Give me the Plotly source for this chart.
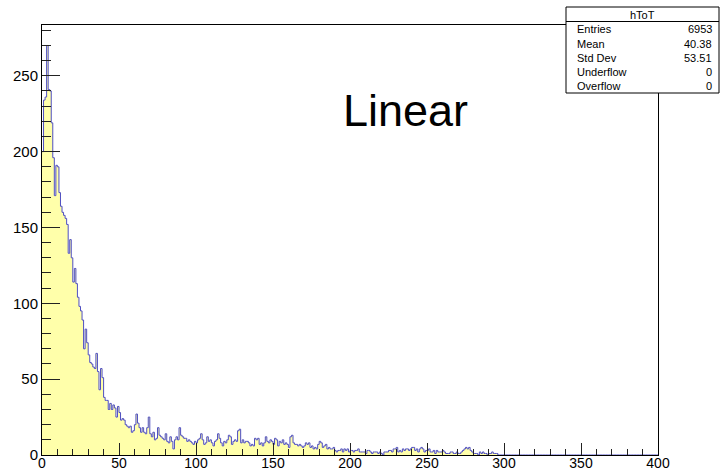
import numpy as np
import plotly.graph_objects as go

# Histogram hToT: 400 bins of width 1 from 0 to 400
BIN_LOW = 0.0
BIN_WIDTH = 1.0

counts = [
    # 0-29
    200, 234, 236, 270, 241, 240, 219, 196, 171, 191,
    190, 173, 164, 160, 158, 156, 152, 133, 142, 130,
    114, 123, 113, 104, 98, 95, 89, 70, 83, 74,
    # 30-59
    66, 61, 60, 58, 57, 67, 55, 43, 57, 51,
    38, 36, 36, 30, 34, 30, 33, 31, 25, 32,
    28, 23, 24, 23, 20, 19, 18, 19, 15, 16,
    # 60-89
    20, 27, 21, 18, 15, 18, 15, 14, 18, 25,
    14, 12, 15, 10, 11, 18, 13, 12, 11, 10,
    14, 9, 8, 12, 9, 4, 10, 12, 10, 18,
    # 90-119
    13, 12, 11, 11, 9, 10, 9, 8, 7, 9,
    8, 10, 11, 14, 10, 7, 8, 12, 9, 10,
    8, 6, 9, 10, 14, 11, 8, 6, 9, 8,
    # 120-159
    10, 13, 12, 7, 9, 10, 9, 16, 17, 8,
    10, 8, 9, 9, 8, 6, 7, 6, 11, 10,
    11, 7, 8, 6, 8, 12, 9, 8, 10, 9,
    7, 11, 10, 6, 9, 8, 10, 7, 8, 7,
    # 160-199
    5, 12, 13, 8, 7, 7, 6, 7, 6, 5,
    6, 8, 7, 8, 5, 6, 4, 5, 4, 7,
    9, 8, 5, 6, 7, 4, 5, 4, 4, 5,
    3, 2, 3, 3, 4, 2, 4, 3, 4, 2,
    # 200-239
    3, 3, 2, 3, 3, 4, 2, 2, 2, 2,
    1, 3, 3, 2, 1, 2, 2, 2, 1, 2,
    1, 0, 2, 2, 2, 3, 3, 2, 4, 4,
    5, 2, 3, 2, 4, 3, 4, 4, 3, 4,
    # 240-279
    5, 5, 3, 4, 2, 4, 5, 4, 2, 3,
    3, 4, 2, 2, 3, 1, 3, 2, 2, 2,
    3, 2, 1, 1, 1, 2, 2, 1, 1, 2,
    1, 1, 2, 3, 4, 5, 4, 5, 3, 2,
    # 280-295
    1, 1, 1, 0, 2, 1, 2, 1, 1, 0,
    1, 1, 2, 1, 1, 1,
]
N_BINS = 400
counts = counts + [0] * (N_BINS - len(counts))

x_ticks = [0, 50, 100, 150, 200, 250, 300, 350, 400]
y_ticks = [0, 50, 100, 150, 200, 250]

stats_title = "hToT"
stats_labels = ["Entries", "Mean", "Std Dev", "Underflow", "Overflow"]
stats_values = ["6953", "40.38", "53.51", "0", "0"]

edges = BIN_LOW + BIN_WIDTH * np.arange(N_BINS + 1)
step_y = list(counts) + [counts[-1]]

FONT = "Liberation Sans, Arial, Helvetica, sans-serif"

fig = go.Figure()
fig.add_trace(go.Scatter(
    x=edges, y=step_y,
    mode="lines",
    line=dict(shape="hv", color="#4f4fc2", width=1),
    fill="tozeroy",
    fillcolor="#ffffaa",
    hoverinfo="skip",
    showlegend=False,
))

# plot area in pixels: x 42..658, y 25..455
W, H = 720, 472
L, R, T, B = 42, 62, 25, 17
pw, ph = W - L - R, H - T - B


def px(xp):
    return (xp - L) / pw


def py(yp):
    return (H - B - yp) / ph


fig.update_layout(
    width=W, height=H,
    margin=dict(l=L, r=R, t=T, b=B, pad=0),
    paper_bgcolor="white",
    plot_bgcolor="white",
    font=dict(family=FONT, color="black"),
    showlegend=False,
)

fig.update_xaxes(
    range=[0, 400],
    tickvals=x_ticks,
    ticktext=[str(v) for v in x_ticks],
    ticks="inside", ticklen=12, tickwidth=1, tickcolor="#222",
    minor=dict(ticks="inside", ticklen=6, dtick=10, tickwidth=1, tickcolor="#222"),
    showline=True, linecolor="black", linewidth=1, mirror=True,
    showgrid=False, zeroline=False,
    tickfont=dict(size=14, family=FONT, color="black"),
    ticklabelstandoff=-5,
    automargin=False,
)
fig.update_yaxes(
    range=[0, 283.5],
    tickvals=y_ticks,
    ticktext=[str(v) for v in y_ticks],
    ticks="inside", ticklen=18, tickwidth=1, tickcolor="#222",
    minor=dict(ticks="inside", ticklen=9, dtick=10, tickwidth=1, tickcolor="#222"),
    showline=True, linecolor="black", linewidth=1, mirror=True,
    showgrid=False, zeroline=False,
    tickfont=dict(size=15, family=FONT, color="black"),
    automargin=False,
)

# "Linear" label
fig.add_annotation(
    x=px(405), y=py(110), xref="paper", yref="paper",
    text="Linear", showarrow=False,
    font=dict(size=45, family=FONT, color="black"),
    xanchor="center", yanchor="middle",
)

# statistics box
bx0, bx1, by0, by1, by_div = 566, 719, 7, 93, 21.5
fig.add_shape(type="rect", xref="paper", yref="paper",
              x0=px(bx0), x1=px(bx1), y0=py(by1), y1=py(by0),
              line=dict(color="black", width=1), fillcolor="white", layer="above")
fig.add_shape(type="line", xref="paper", yref="paper",
              x0=px(bx0), x1=px(bx1), y0=py(by_div), y1=py(by_div),
              line=dict(color="black", width=1), layer="above")
fig.add_annotation(
    x=px((bx0 + bx1) / 2), y=py(14.5), xref="paper", yref="paper",
    text=stats_title, showarrow=False,
    font=dict(size=11, family=FONT, color="black"),
    xanchor="center", yanchor="middle",
)
row_y = [29.3, 43.5, 57.7, 71.9, 86.1]
for lab, val, yy in zip(stats_labels, stats_values, row_y):
    fig.add_annotation(x=px(575), y=py(yy), xref="paper", yref="paper",
                       text=lab, showarrow=False, xanchor="left", yanchor="middle",
                       font=dict(size=11, family=FONT, color="black"))
    fig.add_annotation(x=px(714), y=py(yy), xref="paper", yref="paper",
                       text=val, showarrow=False, xanchor="right", yanchor="middle",
                       font=dict(size=11, family=FONT, color="black"))

fig.write_html("out.html")
